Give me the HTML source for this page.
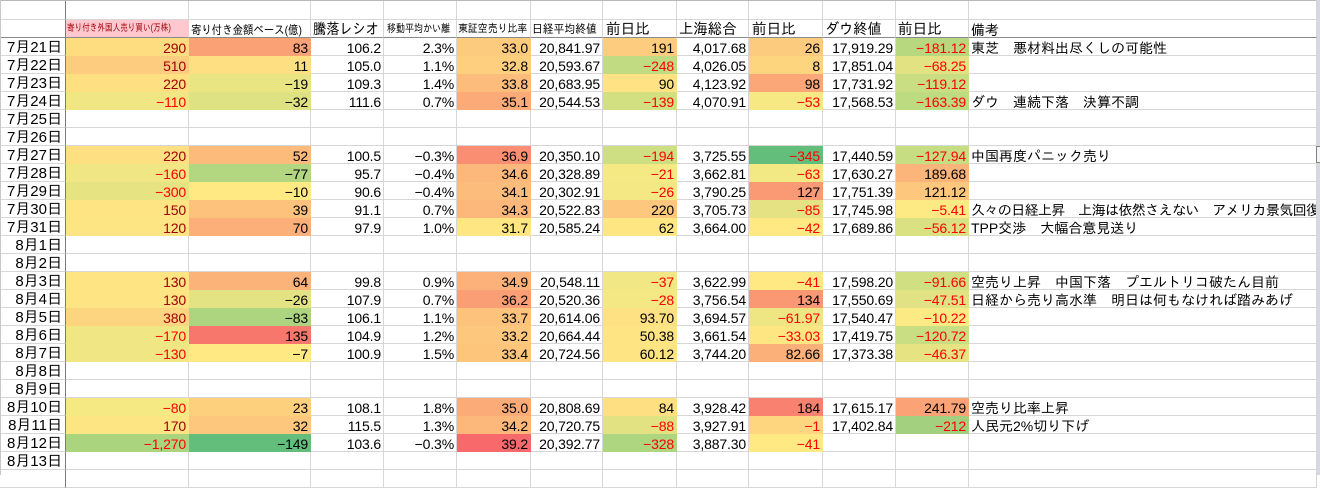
<!DOCTYPE html>
<html><head><meta charset="utf-8">
<style>
*{margin:0;padding:0}
body{width:1320px;height:475px;overflow:hidden;background:#fff;position:relative;font-family:"Liberation Sans","IPAGothic",sans-serif}
.r{position:absolute;left:0;display:flex;height:18px}
.r>div{box-sizing:border-box;height:18px;border-right:1px solid #d6d6d6;border-bottom:1px solid #d6d6d6;overflow:hidden;white-space:nowrap;text-align:right;padding-right:2px;font-size:14px;line-height:21px;color:#000;letter-spacing:-0.15px}
.r>div:nth-child(1){width:66px;border-right-color:#7a7a7a;font-size:15px;line-height:20px;padding-right:3px;letter-spacing:0}
.r>div:nth-child(2){width:123px}
.r>div:nth-child(3){width:122px}
.r>div:nth-child(4){width:73px}
.r>div:nth-child(5){width:73px}
.r>div:nth-child(6){width:74px}
.r>div:nth-child(7){width:72px}
.r>div:nth-child(8){width:74px}
.r>div:nth-child(9){width:72px}
.r>div:nth-child(10){width:74px}
.r>div:nth-child(11){width:73px}
.r>div:nth-child(12){width:73px}
.r>div:nth-child(13){width:348px;text-align:left;padding-left:2px;padding-right:0;letter-spacing:0}
.r.t0{height:20px}
.r.t0>div{height:20px}
.r.h>div{border-bottom-color:#8a8a8a;text-align:left;padding-right:0;letter-spacing:0;color:#000}
.s{display:inline-block;transform-origin:0 50%}
.r>div.n{color:#f00}
.r>div.d{color:#a00000}
</style></head><body>

<div class="r t0" style="top:0"><div></div><div></div><div></div><div></div><div></div><div></div><div></div><div></div><div></div><div></div><div></div><div></div><div></div></div>

<div class="r h" style="top:20px">
<div></div>
<div style="background:#ffc7ce;border-right-color:#ffc7ce;padding-left:1px;font-size:10px;line-height:18px;color:#9c0006"><span class="s" style="transform:scaleX(.76)">寄り付き外国人売り買い(万株)</span></div>
<div style="padding-left:2px;font-size:12px;line-height:21.5px"><span class="s" style="transform:scaleX(.867)">寄り付き金額ベース(億)</span></div>
<div style="padding-left:2px;font-size:15px;line-height:19.6px"><span class="s" style="transform:scaleX(.88)">騰落レシオ</span></div>
<div style="padding-left:3px;font-size:11px;line-height:18.4px"><span class="s" style="transform:scaleX(.82)">移動平均かい離</span></div>
<div style="padding-left:1px;font-size:11px;line-height:19.4px"><span class="s" style="transform:scaleX(.9)">東証空売り比率</span></div>
<div style="padding-left:1px;font-size:12px;line-height:19.7px"><span class="s" style="transform:scaleX(.9)">日経平均終値</span></div>
<div style="padding-left:3px;font-size:15px;line-height:19.6px"><span class="s" style="transform:scaleX(.97)">前日比</span></div>
<div style="padding-left:2px;font-size:15px;line-height:19.6px"><span class="s" style="transform:scaleX(.96)">上海総合</span></div>
<div style="padding-left:3px;font-size:15px;line-height:19.6px"><span class="s" style="transform:scaleX(.97)">前日比</span></div>
<div style="padding-left:2px;font-size:15px;line-height:19.6px"><span class="s" style="transform:scaleX(.945)">ダウ終値</span></div>
<div style="padding-left:2px;font-size:15px;line-height:19.6px"><span class="s" style="transform:scaleX(.97)">前日比</span></div>
<div style="padding-left:2px;font-size:14px;line-height:20.3px">備考</div>
</div>

<div class="r" style="top:38px"><div>7月21日</div><div class="d" style="background:#FEDD81;border-color:#FEDD81">290</div><div style="background:#FBA176;border-color:#FBA176">83</div><div>106.2</div><div>2.3%</div><div style="background:#FDCB7D;border-color:#FDCB7D">33.0</div><div>20,841.97</div><div style="background:#FDCC7E;border-color:#FDCC7E">191</div><div>4,017.68</div><div style="background:#FDCB7D;border-color:#FDCB7D">26</div><div>17,919.29</div><div class="n" style="background:#B8D880;border-color:#B8D880">−181.12</div><div>東芝　悪材料出尽くしの可能性</div></div>

<div class="r" style="top:56px"><div>7月22日</div><div class="d" style="background:#FDCC7E;border-color:#FDCC7E">510</div><div style="background:#FEDF82;border-color:#FEDF82">11</div><div>105.0</div><div>1.1%</div><div style="background:#FDCF7E;border-color:#FDCF7E">32.8</div><div>20,593.67</div><div class="n" style="background:#C0DB81;border-color:#C0DB81">−248</div><div>4,026.05</div><div style="background:#FDD57F;border-color:#FDD57F">8</div><div>17,851.04</div><div class="n" style="background:#E3E283;border-color:#E3E283">−68.25</div><div></div></div>

<div class="r" style="top:74px"><div>7月23日</div><div class="d" style="background:#FEE082;border-color:#FEE082">220</div><div style="background:#E9E583;border-color:#E9E583">−19</div><div>109.3</div><div>1.4%</div><div style="background:#FCBC7B;border-color:#FCBC7B">33.8</div><div>20,683.95</div><div style="background:#FFE283;border-color:#FFE283">90</div><div>4,123.92</div><div style="background:#FBA777;border-color:#FBA777">98</div><div>17,731.92</div><div class="n" style="background:#C9DE82;border-color:#C9DE82">−119.12</div><div></div></div>

<div class="r" style="top:92px"><div>7月24日</div><div class="n" style="background:#F0E784;border-color:#F0E784">−110</div><div style="background:#DFE283;border-color:#DFE283">−32</div><div>111.6</div><div>0.7%</div><div style="background:#FBAA78;border-color:#FBAA78">35.1</div><div>20,544.53</div><div class="n" style="background:#D2E082;border-color:#D2E082">−139</div><div>4,070.91</div><div class="n" style="background:#F6E984;border-color:#F6E984">−53</div><div>17,568.53</div><div class="n" style="background:#BDDB81;border-color:#BDDB81">−163.39</div><div>ダウ　連続下落　決算不調</div></div>

<div class="r" style="top:110px"><div>7月25日</div><div></div><div></div><div></div><div></div><div></div><div></div><div></div><div></div><div></div><div></div><div></div><div></div></div>
<div class="r" style="top:128px"><div>7月26日</div><div></div><div></div><div></div><div></div><div></div><div></div><div></div><div></div><div></div><div></div><div></div><div></div></div>

<div class="r" style="top:146px"><div>7月27日</div><div class="d" style="background:#FEE082;border-color:#FEE082">220</div><div style="background:#FCBA7B;border-color:#FCBA7B">52</div><div>100.5</div><div>−0.3%</div><div style="background:#F98E72;border-color:#F98E72">36.9</div><div>20,350.10</div><div class="n" style="background:#CDDF82;border-color:#CDDF82">−194</div><div>3,725.55</div><div class="n" style="background:#63BE7B;border-color:#63BE7B">−345</div><div>17,440.59</div><div class="n" style="background:#C6DD82;border-color:#C6DD82">−127.94</div><div>中国再度パニック売り</div></div>

<div class="r" style="top:164px"><div>7月28日</div><div class="n" style="background:#F0E784;border-color:#F0E784">−160</div><div style="background:#B3D680;border-color:#B3D680">−77</div><div>95.7</div><div>−0.4%</div><div style="background:#FCB77A;border-color:#FCB77A">34.6</div><div>20,328.89</div><div class="n" style="background:#F5E984;border-color:#F5E984">−21</div><div>3,662.81</div><div class="n" style="background:#F2E884;border-color:#F2E884">−63</div><div>17,630.27</div><div style="background:#FBB47A;border-color:#FBB47A">189.68</div><div></div></div>

<div class="r" style="top:182px"><div>7月29日</div><div class="n" style="background:#E6E383;border-color:#E6E383">−300</div><div style="background:#FEE983;border-color:#FEE983">−10</div><div>90.6</div><div>−0.4%</div><div style="background:#FCBC7B;border-color:#FCBC7B">34.1</div><div>20,302.91</div><div class="n" style="background:#F4E884;border-color:#F4E884">−26</div><div>3,790.25</div><div style="background:#FA9A74;border-color:#FA9A74">127</div><div>17,751.39</div><div style="background:#FDC87D;border-color:#FDC87D">121.12</div><div></div></div>

<div class="r" style="top:200px"><div>7月30日</div><div class="d" style="background:#FEE483;border-color:#FEE483">150</div><div style="background:#FDC37C;border-color:#FDC37C">39</div><div>91.1</div><div>0.7%</div><div style="background:#FCB77A;border-color:#FCB77A">34.3</div><div>20,522.83</div><div style="background:#FDC87D;border-color:#FDC87D">220</div><div>3,705.73</div><div class="n" style="background:#E4E283;border-color:#E4E283">−85</div><div>17,745.98</div><div class="n" style="background:#FEEA84;border-color:#FEEA84">−5.41</div><div style="letter-spacing:-0.6px">久々の日経上昇　上海は依然さえない　アメリカ景気回復の</div></div>

<div class="r" style="top:218px"><div>7月31日</div><div class="d" style="background:#FEE583;border-color:#FEE583">120</div><div style="background:#FCAF79;border-color:#FCAF79">70</div><div>97.9</div><div>1.0%</div><div style="background:#FEE683;border-color:#FEE683">31.7</div><div>20,585.24</div><div style="background:#FEE683;border-color:#FEE683">62</div><div>3,664.00</div><div class="n" style="background:#FEE983;border-color:#FEE983">−42</div><div>17,689.86</div><div class="n" style="background:#D9E182;border-color:#D9E182">−56.12</div><div>TPP交渉　大幅合意見送り</div></div>

<div class="r" style="top:236px"><div>8月1日</div><div></div><div></div><div></div><div></div><div></div><div></div><div></div><div></div><div></div><div></div><div></div><div></div></div>
<div class="r" style="top:254px"><div>8月2日</div><div></div><div></div><div></div><div></div><div></div><div></div><div></div><div></div><div></div><div></div><div></div><div></div></div>

<div class="r" style="top:272px"><div>8月3日</div><div class="d" style="background:#FEE483;border-color:#FEE483">130</div><div style="background:#FCB37A;border-color:#FCB37A">64</div><div>99.8</div><div>0.9%</div><div style="background:#FCB17A;border-color:#FCB17A">34.9</div><div>20,548.11</div><div class="n" style="background:#F1E784;border-color:#F1E784">−37</div><div>3,622.99</div><div class="n" style="background:#FEE983;border-color:#FEE983">−41</div><div>17,598.20</div><div class="n" style="background:#CFDF82;border-color:#CFDF82">−91.66</div><div>空売り上昇　中国下落　プエルトリコ破たん目前</div></div>

<div class="r" style="top:290px"><div>8月4日</div><div class="d" style="background:#FEE483;border-color:#FEE483">130</div><div style="background:#E4E383;border-color:#E4E383">−26</div><div>107.9</div><div>0.7%</div><div style="background:#FA9E75;border-color:#FA9E75">36.2</div><div>20,520.36</div><div class="n" style="background:#F3E884;border-color:#F3E884">−28</div><div>3,756.54</div><div style="background:#FA9874;border-color:#FA9874">134</div><div>17,550.69</div><div class="n" style="background:#E1E283;border-color:#E1E283">−47.51</div><div>日経から売り高水準　明日は何もなければ踏みあげ</div></div>

<div class="r" style="top:308px"><div>8月5日</div><div class="d" style="background:#FDD580;border-color:#FDD580">380</div><div style="background:#ADD47F;border-color:#ADD47F">−83</div><div>106.1</div><div>1.1%</div><div style="background:#FDC37C;border-color:#FDC37C">33.7</div><div>20,614.06</div><div style="background:#FEE182;border-color:#FEE182">93.70</div><div>3,694.57</div><div class="n" style="background:#EDE683;border-color:#EDE683">−61.97</div><div>17,540.47</div><div class="n" style="background:#FCEA84;border-color:#FCEA84">−10.22</div><div></div></div>

<div class="r" style="top:326px"><div>8月6日</div><div class="n" style="background:#F0E784;border-color:#F0E784">−170</div><div style="background:#F8776D;border-color:#F8776D">135</div><div>104.9</div><div>1.2%</div><div style="background:#FDC77D;border-color:#FDC77D">33.2</div><div>20,664.44</div><div style="background:#FEE482;border-color:#FEE482">50.38</div><div>3,661.54</div><div class="n" style="background:#FEE783;border-color:#FEE783">−33.03</div><div>17,419.75</div><div class="n" style="background:#C9DE82;border-color:#C9DE82">−120.72</div><div></div></div>

<div class="r" style="top:344px"><div>8月7日</div><div class="n" style="background:#F0E784;border-color:#F0E784">−130</div><div style="background:#FEE983;border-color:#FEE983">−7</div><div>100.9</div><div>1.5%</div><div style="background:#FDC47C;border-color:#FDC47C">33.4</div><div>20,724.56</div><div style="background:#FEE482;border-color:#FEE482">60.12</div><div>3,744.20</div><div style="background:#FBB079;border-color:#FBB079">82.66</div><div>17,373.38</div><div class="n" style="background:#E6E383;border-color:#E6E383">−46.37</div><div></div></div>

<div class="r" style="top:362px"><div>8月8日</div><div></div><div></div><div></div><div></div><div></div><div></div><div></div><div></div><div></div><div></div><div></div><div></div></div>
<div class="r" style="top:380px"><div>8月9日</div><div></div><div></div><div></div><div></div><div></div><div></div><div></div><div></div><div></div><div></div><div></div><div></div></div>

<div class="r" style="top:398px"><div>8月10日</div><div class="n" style="background:#F5E984;border-color:#F5E984">−80</div><div style="background:#FDD07E;border-color:#FDD07E">23</div><div>108.1</div><div>1.8%</div><div style="background:#FBAB78;border-color:#FBAB78">35.0</div><div>20,808.69</div><div style="background:#FEE082;border-color:#FEE082">84</div><div>3,928.42</div><div style="background:#F8816F;border-color:#F8816F">184</div><div>17,615.17</div><div style="background:#FBA276;border-color:#FBA276">241.79</div><div>空売り比率上昇</div></div>

<div class="r" style="top:416px"><div>8月11日</div><div class="d" style="background:#FEE583;border-color:#FEE583">170</div><div style="background:#FDC77D;border-color:#FDC77D">32</div><div>115.5</div><div>1.3%</div><div style="background:#FCB77A;border-color:#FCB77A">34.2</div><div>20,720.75</div><div class="n" style="background:#E3E283;border-color:#E3E283">−88</div><div>3,927.91</div><div class="n" style="background:#FED680;border-color:#FED680">−1</div><div>17,402.84</div><div class="n" style="background:#A3D07F;border-color:#A3D07F">−212</div><div>人民元2%切り下げ</div></div>

<div class="r" style="top:434px"><div>8月12日</div><div class="n" style="background:#ABD47F;border-color:#ABD47F">−1,270</div><div style="background:#63BE7B;border-color:#63BE7B">−149</div><div>103.6</div><div>−0.3%</div><div style="background:#F8696B;border-color:#F8696B">39.2</div><div>20,392.77</div><div class="n" style="background:#AED57F;border-color:#AED57F">−328</div><div>3,887.30</div><div class="n" style="background:#FEE983;border-color:#FEE983">−41</div><div></div><div></div><div></div></div>

<div class="r" style="top:452px"><div>8月13日</div><div></div><div></div><div></div><div></div><div></div><div></div><div></div><div></div><div></div><div></div><div></div><div></div></div>
<div class="r" style="top:470px"><div></div><div></div><div></div><div></div><div></div><div></div><div></div><div></div><div></div><div></div><div></div><div></div><div></div></div>

<div style="position:absolute;left:0;top:0;width:1316px;height:1px;background:#b8b8b8"></div>
<div style="position:absolute;left:0;top:0;width:1px;height:475px;background:#c8c8c8"></div>
<div style="position:absolute;left:1317px;top:0;width:3px;height:475px;background:#d6dae0"></div>
<div style="position:absolute;left:1316px;top:146px;width:4px;height:17px;box-sizing:border-box;background:#f4f4f6;border:1px solid #808080;border-right:none"></div>
</body></html>
